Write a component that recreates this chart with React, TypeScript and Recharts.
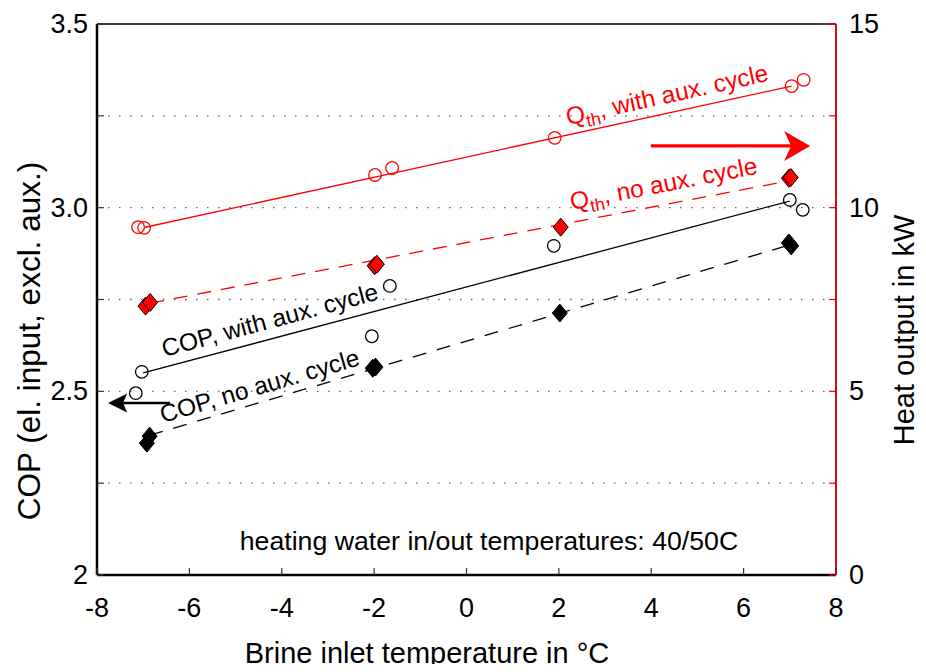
import React from "react";
import {
  ComposedChart,
  XAxis,
  YAxis,
  Line,
  Scatter,
  ReferenceLine,
  ReferenceDot,
} from "recharts";

// ---------- axis ticks ----------
const brineTicks = [-8, -6, -4, -2, 0, 2, 4, 6, 8];
const copTicks = [2, 2.25, 2.5, 2.75, 3, 3.25, 3.5];
const copTickLabels: Record<string, string> = { "2": "2", "2.5": "2.5", "3": "3.0", "3.5": "3.5" };
const heatTicks = [0, 2.5, 5, 7.5, 10, 12.5, 15];
const heatTickLabels: Record<string, string> = { "0": "0", "5": "5", "10": "10", "15": "15" };
const copGrid = [2.25, 2.5, 2.75, 3, 3.25];

// ---------- measured points ----------
// Heat output with aux. cycle (kW)
const qWithAuxT = [-7.11, -6.98, -1.98, -1.61, 1.91, 7.04, 7.3];
const qWithAuxKW = [9.47, 9.45, 10.89, 11.08, 11.9, 13.31, 13.48];
// Heat output without aux. cycle (kW)
const qNoAuxT = [-6.95, -6.85, -1.99, -1.94, 2.04, 6.98, 7.02];
const qNoAuxKW = [7.32, 7.42, 8.42, 8.46, 9.47, 10.8, 10.82];
// COP with aux. cycle
const copWithAuxT = [-7.16, -7.03, -2.05, -1.66, 1.89, 7.0, 7.28];
const copWithAuxV = [2.495, 2.553, 2.65, 2.787, 2.896, 3.021, 2.994];
// COP without aux. cycle
const copNoAuxT = [-6.92, -6.86, -2.03, -1.97, 2.02, 6.98, 7.03];
const copNoAuxV = [2.359, 2.378, 2.563, 2.566, 2.713, 2.904, 2.896];

// ---------- linear fits (end points) ----------
const qWithAuxFitT = [-6.98, 7.04];
const qWithAuxFitKW = [9.46, 13.31];
const qNoAuxFitT = [-6.85, 6.98];
const qNoAuxFitKW = [7.4, 10.73];
const copWithAuxFitT = [-7.0, 7.0];
const copWithAuxFitV = [2.55, 3.018];
const copNoAuxFitT = [-6.87, 6.98];
const copNoAuxFitV = [2.38, 2.898];

// ---------- arrows (data coords: tail -> tip) ----------
const copArrowT = [-6.42, -7.76];
const copArrowV = [2.468, 2.468];
const heatArrowT = [3.99, 7.44];
const heatArrowKW = [11.68, 11.68];

const RED = "#ff0000";
const FONT = "'Liberation Sans', Arial, Helvetica, sans-serif";

const pts = (xs: number[], ys: number[]) => xs.map((x, i) => ({ x, y: ys[i] }));

// ---------- annotations ----------
type Note = { pre?: string; sub?: string; text: string; x: number; y: number; axis: string; angle: number; color: string; size: number };
const notes: Note[] = [
  { pre: "Q", sub: "th", text: ", with aux. cycle", x: 4.38, y: 12.85, axis: "q", angle: -12.5, color: RED, size: 24.5 },
  { pre: "Q", sub: "th", text: ", no aux. cycle", x: 4.3, y: 10.43, axis: "q", angle: -11, color: RED, size: 24.5 },
  { text: "COP, with aux. cycle", x: -4.211, y: 2.672, axis: "cop", angle: -15, color: "#000", size: 24.5 },
  { text: "COP, no aux. cycle", x: -4.428, y: 2.493, axis: "cop", angle: -16.3, color: "#000", size: 24.5 },
  { text: "heating water in/out temperatures: 40/50C", x: 0.487, y: 2.068, axis: "cop", angle: 0, color: "#000", size: 26.7 },
];

const TM = 10; // tick margin used by custom ticks
const TICK_FONT = 27;

const CopTick = (props: any) => {
  const { x, y, payload } = props;
  const ax = x + TM;
  const label = copTickLabels[String(payload.value)];
  return (
    <g>
      <line x1={ax} x2={ax + 7} y1={y} y2={y} stroke="#333" strokeWidth={1.2} />
      {label && (
        <text x={ax - 9} y={y} textAnchor="end" dominantBaseline="central" fontSize={TICK_FONT} fontFamily={FONT} fill="#000">
          {label}
        </text>
      )}
    </g>
  );
};

const HeatTick = (props: any) => {
  const { x, y, payload } = props;
  const ax = x - TM;
  const label = heatTickLabels[String(payload.value)];
  return (
    <g>
      <line x1={ax} x2={ax - 7} y1={y} y2={y} stroke={RED} strokeWidth={1.2} />
      {label && (
        <text x={ax + 13} y={y} textAnchor="start" dominantBaseline="central" fontSize={TICK_FONT} fontFamily={FONT} fill="#000">
          {label}
        </text>
      )}
    </g>
  );
};

const BrineTick = (props: any) => {
  const { x, y, payload } = props;
  const ay = y - TM;
  return (
    <g>
      <line x1={x} x2={x} y1={ay} y2={ay - 7} stroke="#333" strokeWidth={1.2} />
      <text x={x} y={ay + 33} textAnchor="middle" dominantBaseline="central" fontSize={TICK_FONT} fontFamily={FONT} fill="#000">
        {String(payload.value)}
      </text>
    </g>
  );
};

const openCircle = (color: string) => (p: any) => (
  <circle cx={p.cx} cy={p.cy} r={6.3} fill="none" stroke={color} strokeWidth={1.3} />
);
const diamond = (fill: string) => (p: any) => (
  <path
    d={`M${p.cx},${p.cy - 9} L${p.cx + 7.5},${p.cy} L${p.cx},${p.cy + 9} L${p.cx - 7.5},${p.cy} Z`}
    fill={fill}
    stroke="#000"
    strokeWidth={1}
  />
);

const arrowShape = (color: string, width: number, L: number, W: number, N: number) => (p: any) => {
  const { x1, y1, x2, y2 } = p;
  const dx = x2 - x1;
  const dy = y2 - y1;
  const len = Math.sqrt(dx * dx + dy * dy) || 1;
  const ux = dx / len;
  const uy = dy / len;
  const nx = -uy;
  const ny = ux;
  const bx = x2 - ux * L;
  const by = y2 - uy * L;
  const mx = x2 - ux * (L - N);
  const my = y2 - uy * (L - N);
  return (
    <g>
      <line x1={x1} y1={y1} x2={mx} y2={my} stroke={color} strokeWidth={width} />
      <path
        d={`M${x2},${y2} L${bx + nx * W},${by + ny * W} L${mx},${my} L${bx - nx * W},${by - ny * W} Z`}
        fill={color}
        stroke="none"
      />
    </g>
  );
};

const noteShape = (n: Note) => (p: any) => {
  const cx = p.cx;
  const cy = p.cy;
  return (
    <text
      x={cx}
      y={cy}
      textAnchor="middle"
      transform={`rotate(${n.angle} ${cx} ${cy})`}
      fontSize={n.size}
      fontFamily={FONT}
      fill={n.color}
    >
      {n.pre && <tspan>{n.pre}</tspan>}
      {n.sub && (
        <tspan fontSize={n.size * 0.72} dy={6}>
          {n.sub}
        </tspan>
      )}
      <tspan dy={n.sub ? -6 : 0}>{n.text}</tspan>
    </text>
  );
};

export default function App() {
  return (
    <div style={{ position: "relative", width: 910, height: 656 }}>
      <ComposedChart width={910} height={656} margin={{ top: 16, right: 22, bottom: 29, left: 29 }}>
        <XAxis
          xAxisId="t"
          dataKey="x"
          type="number"
          domain={[-8, 8]}
          ticks={brineTicks}
          interval={0}
          height={60}
          axisLine={{ stroke: "#000", strokeWidth: 2.5 }}
          tickLine={false}
          tickSize={0}
          tickMargin={TM}
          tick={<BrineTick />}
        />
        <YAxis
          yAxisId="cop"
          orientation="left"
          dataKey="y"
          type="number"
          domain={[2, 3.5]}
          ticks={copTicks}
          interval={0}
          width={60}
          axisLine={{ stroke: "#000", strokeWidth: 2.5 }}
          tickLine={false}
          tickSize={0}
          tickMargin={TM}
          tick={<CopTick />}
        />
        <YAxis
          yAxisId="q"
          orientation="right"
          dataKey="y"
          type="number"
          domain={[0, 15]}
          ticks={heatTicks}
          interval={0}
          width={60}
          axisLine={{ stroke: RED, strokeWidth: 1.5 }}
          tickLine={false}
          tickSize={0}
          tickMargin={TM}
          tick={<HeatTick />}
        />

        {copGrid.map((v) => (
          <ReferenceLine key={v} xAxisId="t" yAxisId="cop" y={v} stroke="#666" strokeWidth={1.3} strokeDasharray="1.5 9.5" />
        ))}
        <ReferenceLine xAxisId="t" yAxisId="cop" y={3.5} stroke="#000" strokeWidth={1.5} />
        <ReferenceLine xAxisId="t" yAxisId="cop" x={8} stroke="#000" strokeWidth={1.5} />

        <Line xAxisId="t" yAxisId="q" data={pts(qWithAuxFitT, qWithAuxFitKW)} dataKey="y" stroke={RED} strokeWidth={1.3} dot={false} isAnimationActive={false} />
        <Line xAxisId="t" yAxisId="q" data={pts(qNoAuxFitT, qNoAuxFitKW)} dataKey="y" stroke={RED} strokeWidth={1.3} strokeDasharray="14 10" dot={false} isAnimationActive={false} />
        <Line xAxisId="t" yAxisId="cop" data={pts(copWithAuxFitT, copWithAuxFitV)} dataKey="y" stroke="#000" strokeWidth={1.3} dot={false} isAnimationActive={false} />
        <Line xAxisId="t" yAxisId="cop" data={pts(copNoAuxFitT, copNoAuxFitV)} dataKey="y" stroke="#000" strokeWidth={1.3} strokeDasharray="14 11" dot={false} isAnimationActive={false} />

        <Scatter xAxisId="t" yAxisId="q" data={pts(qWithAuxT, qWithAuxKW)} dataKey="y" shape={openCircle(RED)} isAnimationActive={false} />
        <Scatter xAxisId="t" yAxisId="q" data={pts(qNoAuxT, qNoAuxKW)} dataKey="y" shape={diamond(RED)} isAnimationActive={false} />
        <Scatter xAxisId="t" yAxisId="cop" data={pts(copWithAuxT, copWithAuxV)} dataKey="y" shape={openCircle("#000")} isAnimationActive={false} />
        <Scatter xAxisId="t" yAxisId="cop" data={pts(copNoAuxT, copNoAuxV)} dataKey="y" shape={diamond("#000")} isAnimationActive={false} />

        <ReferenceLine
          xAxisId="t"
          yAxisId="cop"
          segment={[
            { x: copArrowT[0], y: copArrowV[0] },
            { x: copArrowT[1], y: copArrowV[1] },
          ]}
          shape={arrowShape("#000", 2.5, 19, 9.5, 4)}
        />
        <ReferenceLine
          xAxisId="t"
          yAxisId="q"
          segment={[
            { x: heatArrowT[0], y: heatArrowKW[0] },
            { x: heatArrowT[1], y: heatArrowKW[1] },
          ]}
          shape={arrowShape(RED, 3.2, 26, 15, 7)}
        />

        {notes.map((n, i) => (
          <ReferenceDot key={i} xAxisId="t" yAxisId={n.axis} x={n.x} y={n.y} r={1} ifOverflow="visible" shape={noteShape(n)} />
        ))}
      </ComposedChart>
      <svg width={910} height={664} style={{ position: "absolute", left: 0, top: 0, pointerEvents: "none", overflow: "visible" }}>
        <text x={21} y={333} textAnchor="middle" dominantBaseline="central" transform="rotate(-90 21 333)" fontSize={31.5} fontFamily={FONT} fill="#000">
          COP (el. input, excl. aux.)
        </text>
        <text x={896} y={322} textAnchor="middle" dominantBaseline="central" transform="rotate(-90 896 322)" fontSize={29} fontFamily={FONT} fill="#000">
          Heat output in kW
        </text>
        <text x={419} y={645} textAnchor="middle" dominantBaseline="central" fontSize={29} fontFamily={FONT} fill="#000">
          Brine inlet temperature in °C
        </text>
      </svg>
    </div>
  );
}
